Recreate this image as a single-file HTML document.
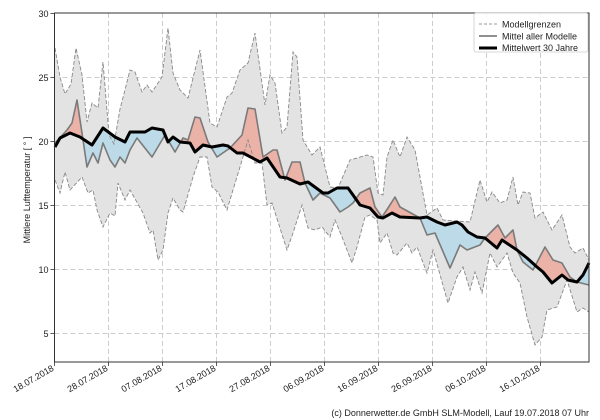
<!DOCTYPE html>
<html><head><meta charset="utf-8"><style>
html,body{margin:0;padding:0;background:#fff;}
svg{display:block;font-family:"Liberation Sans","DejaVu Sans",sans-serif;}
</style></head><body>
<svg id="c" width="600" height="420" xmlns="http://www.w3.org/2000/svg">
<rect width="600" height="420" fill="#fff"/>
<g id="grid"></g>
<g id="data"></g>
<g id="axes"></g>
<g id="legend">
<rect x="474" y="13" width="114" height="39" fill="#fff" fill-opacity="0.9" stroke="#ccc" stroke-width="0.8" rx="2"/>
<line x1="479" y1="24" x2="497" y2="24" stroke="#999" stroke-width="1" stroke-dasharray="3,2"/>
<line x1="479" y1="36" x2="497" y2="36" stroke="#808080" stroke-width="1.8"/>
<line x1="479" y1="48" x2="497" y2="48" stroke="#000" stroke-width="3"/>
<text x="502" y="27.5" font-size="9" fill="#222">Modellgrenzen</text>
<text x="502" y="39.5" font-size="9" fill="#222">Mittel aller Modelle</text>
<text x="502" y="51" font-size="9" fill="#222">Mittelwert 30 Jahre</text>
</g>
<text transform="translate(30,190) rotate(-90)" text-anchor="middle" font-size="9" fill="#222">Mittlere Lufttemperatur [ ° ]</text>
<text x="589" y="416" text-anchor="end" font-size="9" fill="#222">(c) Donnerwetter.de GmbH SLM-Modell, Lauf 19.07.2018 07 Uhr</text>
</svg>
<script>
var NS="http://www.w3.org/2000/svg";
function el(p,t,a,txt){var e=document.createElementNS(NS,t);for(var k in a)e.setAttribute(k,a[k]);if(txt)e.textContent=txt;p.appendChild(e);return e;}
var L=54.5,R=589,T=13,B=362;
var yv=function(v){return 269.5-(v-10)*12.8;};
var grid=document.getElementById('grid'),axes=document.getElementById('axes'),data=document.getElementById('data');
var dates=["18.07.2018","28.07.2018","07.08.2018","17.08.2018","27.08.2018","06.09.2018","16.09.2018","26.09.2018","06.10.2018","16.10.2018"];
for(var i=0;i<10;i++){var x=L+54*i;
 if(i>0)el(grid,'line',{x1:x,y1:T,x2:x,y2:B,stroke:'#ccc','stroke-width':1,'stroke-dasharray':'5,3'});
 el(axes,'line',{x1:x,y1:B,x2:x,y2:B+4,stroke:'#333','stroke-width':0.8});
 el(axes,'text',{x:x,y:B+8,'font-size':9,fill:'#222','text-anchor':'end',transform:'rotate(-30 '+x+' '+(B+8)+')'},dates[i]);}
[5,10,15,20,25,30].forEach(function(v){var y=yv(v);
 if(v<30)el(grid,'line',{x1:L,y1:y,x2:R,y2:y,stroke:'#ccc','stroke-width':1,'stroke-dasharray':'5,3'});
 el(axes,'line',{x1:L-4,y1:y,x2:L,y2:y,stroke:'#333','stroke-width':0.8});
 el(axes,'text',{x:L-6,y:y+3.5,'font-size':9,fill:'#222','text-anchor':'end'},String(v));});
el(axes,'rect',{x:L,y:T,width:R-L,height:B-T,fill:'none',stroke:'#333','stroke-width':1});
function P(a){var r=[];for(var i=0;i<a.length;i+=2)r.push([a[i],a[i+1]]);return r;}
var up=P([55,48,60,77,65,94,71,84,76,48,82,75,87,122,92,103,98,108,103,62,109,135,114,144,120,109,125,90,130,70,135,72,142,92,147,85,152,92,162,77,168,28,173,73,180,90,188,98,200,50,210,123,217,127,227,97,232,93,240,70,248,63,255,33,265,105,270,75,275,83,282,133,287,127,293,52,297,57,303,140,312,155,320,147,330,187,338,188,350,160,367,155,373,157,378,193,383,195,387,157,393,140,400,157,407,137,415,150,427,215,437,208,443,220,470,222,480,180,487,202,492,192,500,203,507,200,513,177,518,205,523,192,530,193,535,218,543,212,552,230,562,215,570,247,575,253,583,248,589,260]);
var lo=P([55,180,60,193,65,172,70,190,82,177,88,193,93,190,97,210,103,227,110,213,115,216,118,183,125,200,130,190,143,213,150,233,153,230,158,260,163,250,168,213,173,198,180,210,183,212,193,177,200,157,207,157,212,187,218,192,227,210,233,190,240,167,248,140,255,163,262,163,267,205,272,203,287,250,293,233,302,205,308,228,315,230,322,227,330,237,335,220,342,237,352,263,357,247,365,217,370,215,377,220,380,243,387,233,393,253,397,255,407,243,412,253,417,247,427,273,433,250,448,303,457,277,463,267,470,290,475,272,482,293,490,253,497,267,502,260,507,253,513,273,520,283,527,317,535,345,542,337,547,310,557,307,567,280,577,312,583,308,589,312]);
var mm=P([55,143,67,130,72,123,77,100,82,133,87,167,93,153,98,163,103,143,110,160,115,167,120,157,125,163,130,150,137,138,152,157,165,135,175,152,183,138,188,140,195,117,200,118,208,142,217,157,230,148,242,135,248,108,255,109,263,157,273,150,277,150,285,180,292,162,297,162,300,162,305,183,313,200,320,193,330,198,340,212,348,207,353,203,360,193,370,188,375,207,382,217,388,208,395,197,400,207,420,218,427,235,435,233,450,268,460,245,467,250,480,245,485,238,498,225,505,238,513,230,517,250,523,262,533,270,545,247,553,260,562,263,570,277,577,282,589,285]);
var cl=P([55,147,60,138,70,133,80,137,92,145,103,128,115,137,125,142,130,132,145,132,152,128,163,130,168,142,173,137,180,142,190,143,195,152,203,145,212,147,223,145,228,146,237,153,243,153,260,162,267,158,280,177,287,178,300,184,308,182,323,193,328,193,337,188,348,188,353,195,360,205,370,208,378,217,383,218,392,213,400,217,420,218,427,217,437,222,445,225,457,222,462,225,468,232,477,237,485,238,497,248,502,240,517,250,527,258,537,267,543,272,552,283,562,275,568,280,577,282,583,275,589,263]);
function pts(a){return a.map(function(p){return p[0]+','+p[1];}).join(' ');}
function interp(a,x){if(x<=a[0][0])return a[0][1];for(var i=1;i<a.length;i++){if(x<=a[i][0]){var t=(x-a[i-1][0])/(a[i][0]-a[i-1][0]);return a[i-1][1]+t*(a[i][1]-a[i-1][1]);}}return a[a.length-1][1];}
el(data,'polygon',{points:pts(up.concat(lo.slice().reverse())),fill:'#e3e3e3',stroke:'none'});
var step=0.5;
function col(d){return d>0?'#ebb4a8':'#bcdbe8';}
for(var x=55;x<589;x+=step){var x2=x+step;
 var m1=interp(mm,x),c1=interp(cl,x),m2=interp(mm,x2),c2=interp(cl,x2);
 var d1=c1-m1,d2=c2-m2;
 if(d1*d2>=0){el(data,'polygon',{points:x+','+m1+' '+x2+','+m2+' '+x2+','+c2+' '+x+','+c1,fill:col(d1+d2),stroke:col(d1+d2),'stroke-width':0.3});}
 else{var t=d1/(d1-d2),xm=x+t*step,ym=m1+t*(m2-m1);
  el(data,'polygon',{points:x+','+m1+' '+xm+','+ym+' '+x+','+c1,fill:col(d1)});
  el(data,'polygon',{points:xm+','+ym+' '+x2+','+m2+' '+x2+','+c2,fill:col(d2)});}
}
el(data,'polyline',{points:pts(up),fill:'none',stroke:'#888','stroke-width':0.9,'stroke-dasharray':'4,2'});
el(data,'polyline',{points:pts(lo),fill:'none',stroke:'#888','stroke-width':0.9,'stroke-dasharray':'4,2'});
el(data,'polyline',{points:pts(mm),fill:'none',stroke:'#7a7a7a','stroke-width':1.6,'stroke-linejoin':'round'});
el(data,'polyline',{points:pts(cl),fill:'none',stroke:'#000','stroke-width':3,'stroke-linejoin':'round'});
</script>
</body></html>
